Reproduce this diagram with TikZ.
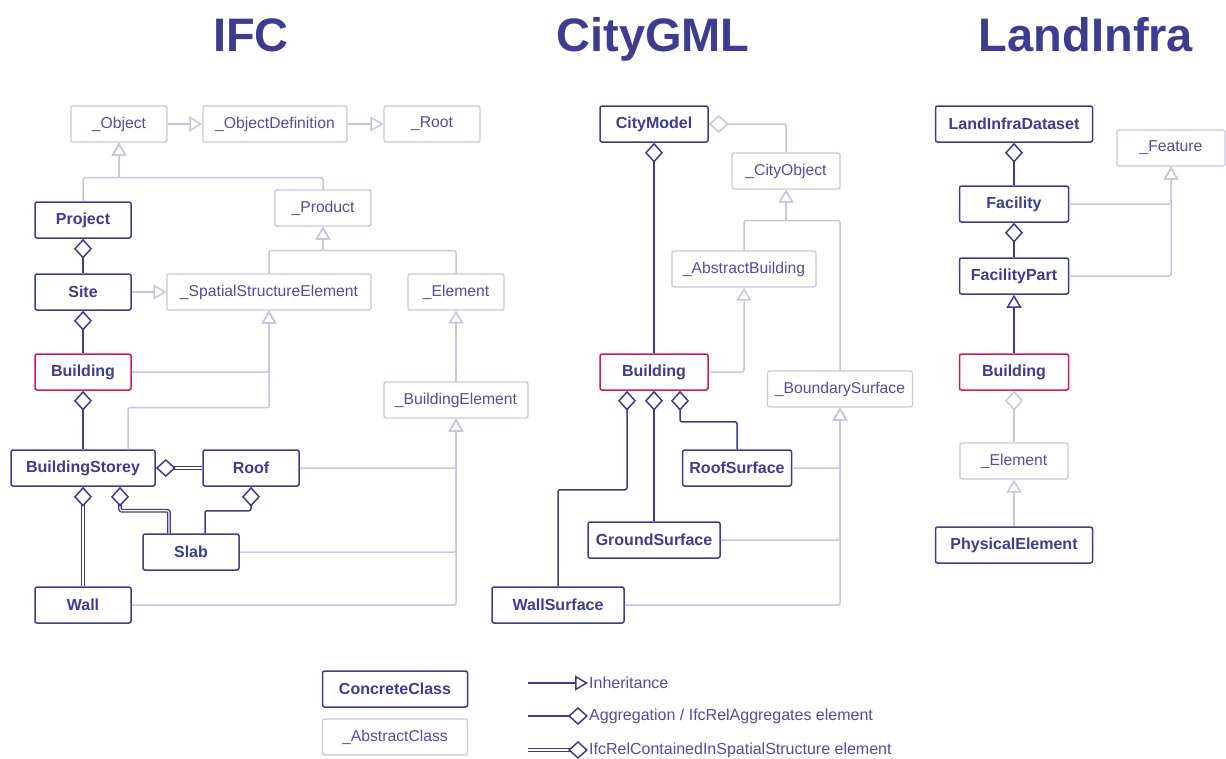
\documentclass[tikz,border=0pt]{standalone}
\usepackage{fontspec}
\setmainfont{Liberation Sans}
\usepackage{tikz}
\usetikzlibrary{arrows.meta,calc}

\definecolor{dkblue}{RGB}{60,60,145}
\definecolor{midblue}{RGB}{78,78,165}
\definecolor{ltblue}{RGB}{198,198,228}
\definecolor{crimson}{RGB}{214,22,92}

\tikzset{
  concrete/.style={draw=dkblue, line width=1.5pt, rounded corners=2pt, text=dkblue, minimum height=36, inner sep=0pt, font=\fontsize{16}{18}\selectfont\bfseries},
  abstract/.style={concrete, draw=ltblue, line width=1.3pt, text=midblue, font=\fontsize{15.7}{18}\selectfont},
  keyclass/.style={concrete, draw=crimson},
  title/.style={text=dkblue, anchor=base, font=\fontsize{47}{50}\selectfont\bfseries},
  legtext/.style={text=midblue, anchor=west, inner sep=1pt, font=\fontsize{16}{18}\selectfont},
  inherit/.style={draw=ltblue, line width=1.5pt, rounded corners=2pt, -{Triangle[open, length=13pt, width=15pt]}},
  inheritdk/.style={inherit, draw=dkblue},
  aggr/.style={draw=dkblue, line width=1.5pt, rounded corners=2pt, -{Diamond[open, length=20pt, width=18pt]}},
  aggrlt/.style={aggr, draw=ltblue},
  contain/.style={aggr, double=white, double distance=1.1pt, line width=1.4pt, -{Diamond[open, length=20pt, width=18pt, line width=1.5pt]}},
}

\begin{document}
\begin{tikzpicture}[x=1pt, y=-1pt]
    \useasboundingbox (0,0) rectangle (1226,758);
    \node[title] (tifc) at (251,51) {IFC};
    \node[title] (tcgml) at (653,51) {CityGML};
    \node[title] (tli) at (1086,51) {LandInfra};

    % IFC classes
    \node[abstract, minimum width=96] (obj) at (119,124) {\_Object};
    \node[abstract, minimum width=144] (objdef) at (275,124) {\_ObjectDefinition};
    \node[abstract, minimum width=96] (root) at (432,124) {\_Root};
    \node[concrete, minimum width=96] (project) at (83,220) {Project};
    \node[abstract, minimum width=96] (product) at (323,208) {\_Product};
    \node[concrete, minimum width=96] (site) at (83,292) {Site};
    \node[abstract, minimum width=204] (sse) at (269,292) {\_SpatialStructureElement};
    \node[abstract, minimum width=96] (element) at (456,292) {\_Element};
    \node[keyclass, minimum width=96] (building) at (83,372) {Building};
    \node[abstract, minimum width=144] (buildelem) at (456,400) {\_BuildingElement};
    \node[concrete, minimum width=144] (storey) at (83,468) {BuildingStorey};
    \node[concrete, minimum width=96] (roof) at (251,468) {Roof};
    \node[concrete, minimum width=96] (slab) at (191,552) {Slab};
    \node[concrete, minimum width=96] (wall) at (83,605) {Wall};

    % IFC relations
    \coordinate (jobj) at ($(obj.south)+(0,35)$);
    \coordinate (jprod) at ($(product.south)+(0,24)$);
    \draw[inherit] (obj) -- (objdef);
    \draw[inherit] (objdef) -- (root);
    \draw[inherit] (project.north) |- (jobj) -- (obj.south);
    \draw[inherit] (product.north) |- (jobj) -- (obj.south);
    \draw[inherit] (sse.north) |- (jprod) -- (product.south);
    \draw[inherit] (element.north) |- (jprod) -- (product.south);
    \draw[inherit] (site) -- (sse);
    \draw[inherit] (building.east) -| (sse.south);
    \draw[inherit] ([xshift=45]storey.north) |- ($(sse.south)+(0,97)$) -- (sse.south);
    \draw[inherit] (buildelem) -- (element);
    \draw[inherit] (roof.east) -| (buildelem.south);
    \draw[inherit] (slab.east) -| (buildelem.south);
    \draw[inherit] (wall.east) -| (buildelem.south);
    \draw[aggr] (site) -- (project);
    \draw[aggr] (building) -- (site);
    \draw[aggr] (storey) -- (building);
    \draw[aggr] ([xshift=14]slab.north) |- ($(roof.south)+(0,24)$) -- (roof.south);
    \draw[contain] (roof) -- (storey);
    \draw[contain] (wall) -- (storey);
    \draw[contain] ([xshift=-22]slab.north) |- ($(storey.south)+(37,24)$) -- ([xshift=37]storey.south);

    % CityGML classes
    \node[concrete, minimum width=108] (citymodel) at (654,124) {CityModel};
    \node[abstract, minimum width=108] (cityobj) at (786,171) {\_CityObject};
    \node[abstract, minimum width=144] (absbldg) at (744,269) {\_AbstractBuilding};
    \node[keyclass, minimum width=108] (cbuilding) at (654,372) {Building};
    \node[abstract, minimum width=145] (boundary) at (840,389) {\_BoundarySurface};
    \node[concrete, minimum width=109] (roofsurf) at (737,468) {RoofSurface};
    \node[concrete, minimum width=132] (groundsurf) at (654,540) {GroundSurface};
    \node[concrete, minimum width=132] (wallsurf) at (558,605) {WallSurface};

    % CityGML relations
    \coordinate (jcity) at ($(cityobj.south)+(0,31)$);
    \draw[aggrlt] (cityobj.north) |- (citymodel.east);
    \draw[aggr] (cbuilding) -- (citymodel);
    \draw[inherit] (absbldg.north) |- (jcity) -- (cityobj.south);
    \draw[inherit] (boundary.north) |- (jcity) -- (cityobj.south);
    \draw[inherit] (cbuilding.east) -| (absbldg.south);
    \draw[inherit] (roofsurf.east) -| (boundary.south);
    \draw[inherit] (groundsurf.east) -| (boundary.south);
    \draw[inherit] (wallsurf.east) -| (boundary.south);
    \draw[aggr] (roofsurf.north) |- ($(cbuilding.south)+(26,31)$) -- ([xshift=26]cbuilding.south);
    \draw[aggr] (groundsurf) -- (cbuilding);
    \draw[aggr] (wallsurf.north) |- ($(cbuilding.south)+(-27,99)$) -- ([xshift=-27]cbuilding.south);

    % LandInfra classes
    \node[concrete, minimum width=157] (lidataset) at (1014,124) {LandInfraDataset};
    \node[concrete, minimum width=109] (facility) at (1014,204) {Facility};
    \node[abstract, minimum width=108] (feature) at (1171,148) {\_Feature};
    \node[concrete, minimum width=109] (facpart) at (1014,276) {FacilityPart};
    \node[keyclass, minimum width=109] (lbuilding) at (1014,372) {Building};
    \node[abstract, minimum width=108] (lelement) at (1014,461) {\_Element};
    \node[concrete, minimum width=157] (physelem) at (1014,545) {PhysicalElement};

    % LandInfra relations
    \draw[aggr] (facility) -- (lidataset);
    \draw[aggr] (facpart) -- (facility);
    \draw[inherit] (facility.east) -| (feature.south);
    \draw[inherit] (facpart.east) -| (feature.south);
    \draw[inheritdk] (lbuilding) -- (facpart);
    \draw[aggrlt] (lelement) -- (lbuilding);
    \draw[inherit] (physelem) -- (lelement);

    % legend
    \node[concrete, minimum width=145] (lconcrete) at (395,689) {ConcreteClass};
    \node[abstract, minimum width=145] (labstract) at (395,737) {\_AbstractClass};
    \node[legtext] (linh) at (588,683) {Inheritance};
    \node[legtext] (lagg) at (588,716) {Aggregation / IfcRelAggregates element};
    \node[legtext] (lcon) at (588,750) {IfcRelContainedInSpatialStructure element};
    \draw[inheritdk] ($(linh.west)+(-60,0)$) -- (linh.west);
    \draw[aggr] ($(lagg.west)+(-60,0)$) -- (lagg.west);
    \draw[contain] ($(lcon.west)+(-60,0)$) -- (lcon.west);
\end{tikzpicture}
\end{document}
